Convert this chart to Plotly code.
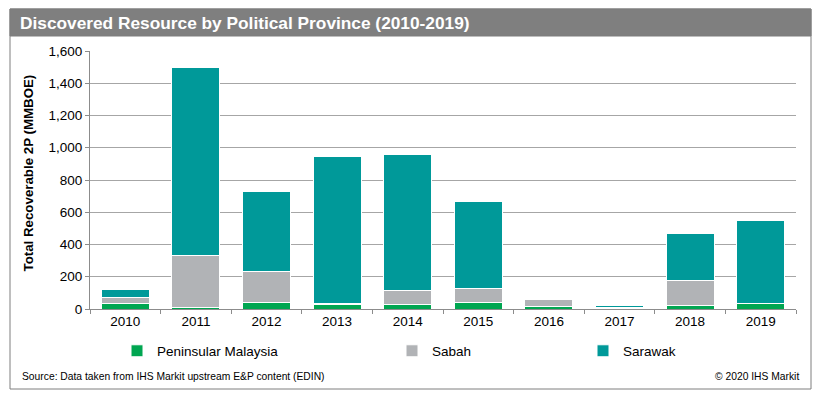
import plotly.graph_objects as go

years = ["2010", "2011", "2012", "2013", "2014", "2015", "2016", "2017", "2018", "2019"]
peninsular = [33, 10, 39, 27, 27, 39, 14, 3, 21, 35]
sabah = [37, 320, 194, 8, 89, 89, 44, 8, 157, 2]
sarawak = [50, 1170, 498, 913, 844, 541, 0, 10, 289, 514]

series_names = ["Peninsular Malaysia", "Sabah", "Sarawak"]
series_colors = ["#00A651", "#B1B3B6", "#009999"]
y_ticks = [0, 200, 400, 600, 800, 1000, 1200, 1400, 1600]

FONT = "Arial, Liberation Sans, sans-serif"
OFF = 8  # page body margin
W, H = 821 - 2 * OFF, 398 - 2 * OFF
# plot area in page pixels: x 90..796, y 51..309
L, T = 90 - OFF, 51 - OFF
R = W - (796 - OFF)
B = H - (309 - OFF)
PW, PH = W - L - R, H - T - B

def px(x):  # page pixel -> paper x
    return (x - OFF - L) / PW

def py(y):  # page pixel -> paper y
    return (H - B - (y - OFF)) / PH

fig = go.Figure()
legend_ids = ["legend", "legend2", "legend3"]
for vals, name, col, lg in zip([peninsular, sabah, sarawak], series_names, series_colors, legend_ids):
    fig.add_trace(go.Bar(
        x=years, y=vals, name=name, legend=lg, showlegend=True,
        marker=dict(color=col, line=dict(color="white", width=1)),
        hovertemplate="%{x}: %{y}<extra>" + name + "</extra>",
    ))

legend_text_x = [159, 434, 625]
legend_cfg = {}
for lg, tx in zip(legend_ids, legend_text_x):
    legend_cfg[lg] = dict(
        xref="container", yref="container",
        x=(tx - OFF - 42) / W, y=(H - (351 - OFF)) / H,
        xanchor="left", yanchor="middle",
        orientation="h", bgcolor="rgba(0,0,0,0)",
        font=dict(family=FONT, size=13.5, color="#000"),
        itemwidth=30, traceorder="normal", visible=True,
    )

shapes = [
    dict(type="rect", xref="paper", yref="paper",
         x0=px(10), x1=px(811), y0=py(389), y1=py(9),
         line=dict(color="#7f7f7f", width=1), fillcolor="rgba(0,0,0,0)", layer="below"),
    dict(type="rect", xref="paper", yref="paper",
         x0=px(10), x1=px(811), y0=py(36), y1=py(9),
         line=dict(color="#7f7f7f", width=1), fillcolor="#7f7f7f", layer="below"),
]

annotations = [
    dict(text="<b>Total Recoverable 2P (MMBOE)</b>", textangle=-90,
         xref="paper", yref="paper", x=px(27.5), y=py(173), xanchor="center", yanchor="middle",
         showarrow=False, font=dict(family=FONT, size=13.3, color="#000")),
    dict(text="Source: Data taken from IHS Markit upstream E&P content (EDIN)",
         xref="paper", yref="paper", x=px(20), y=py(376), xanchor="left", yanchor="middle",
         showarrow=False, font=dict(family=FONT, size=10.3, color="#000")),
    dict(text="© 2020 IHS Markit",
         xref="paper", yref="paper", x=px(801), y=py(376), xanchor="right", yanchor="middle",
         showarrow=False, font=dict(family=FONT, size=10.3, color="#000")),
]

fig.update_layout(
    width=W, height=H,
    margin=dict(l=L, r=R, t=T, b=B, autoexpand=False),
    paper_bgcolor="white", plot_bgcolor="white",
    barmode="stack", bargap=0.32, showlegend=True,
    title=dict(text="<b>Discovered Resource by Political Province (2010-2019)</b>",
               xref="container", yref="container", x=(20 - OFF) / W, y=(H - (22.5 - OFF)) / H,
               xanchor="left", yanchor="middle",
               font=dict(family=FONT, size=17.3, color="white")),
    font=dict(family=FONT, size=13, color="#000"),
    shapes=shapes, annotations=annotations,
    **legend_cfg,
)

fig.update_xaxes(
    type="category", tickson="boundaries", ticks="outside", ticklen=4,
    tickcolor="#8c8c8c", showline=True, linecolor="#8c8c8c", linewidth=1,
    tickfont=dict(family=FONT, size=13.5, color="#000"), showgrid=False,
)
fig.update_yaxes(
    range=[0, 1600], tickvals=y_ticks, tickformat=",", ticks="outside", ticklen=4,
    tickcolor="#8c8c8c", showline=True, linecolor="#8c8c8c", linewidth=1,
    showgrid=True, gridcolor="#a6a6a6", gridwidth=1, zeroline=False,
    tickfont=dict(family=FONT, size=13.5, color="#000"),
)

fig.write_html("out.html")
